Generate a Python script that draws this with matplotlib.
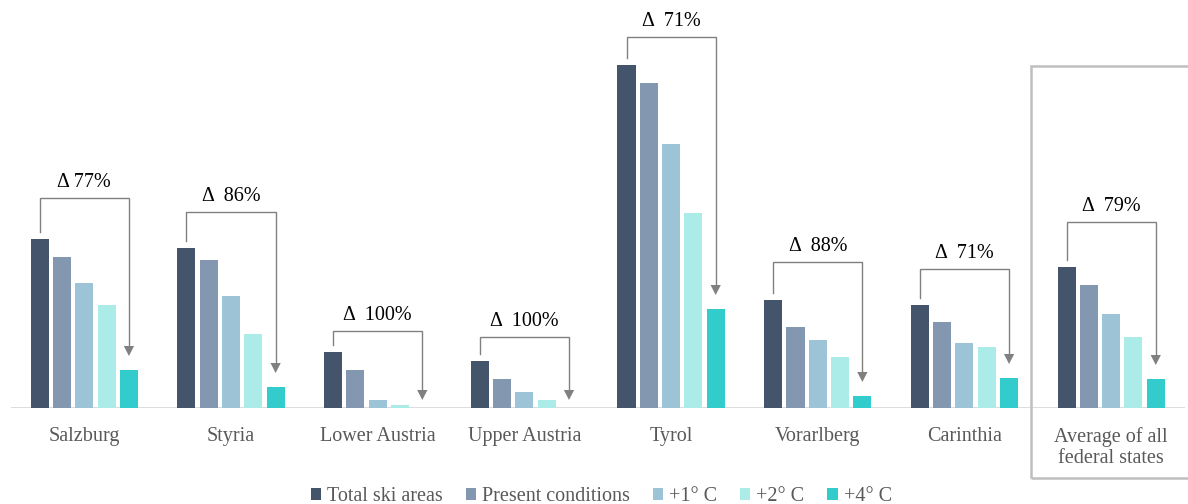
import matplotlib
matplotlib.use("Agg")
import matplotlib.pyplot as plt
from matplotlib.patches import Rectangle

plt.rcParams["font.family"] = ["Liberation Serif", "DejaVu Serif"]

regions = ["Salzburg", "Styria", "Lower Austria", "Upper Austria", "Tyrol",
           "Vorarlberg", "Carinthia", "Average of all\nfederal states"]
series = ["Total ski areas", "Present conditions", "+1° C", "+2° C", "+4° C"]
total = [169, 160, 56, 47, 343, 108, 103, 141]
present = [151, 148, 38, 29, 325, 81, 86, 123]
plus1 = [125, 112, 8, 16, 264, 68, 65, 94]
plus2 = [103, 74, 3, 8, 195, 51, 61, 71]
plus4 = [38, 21, 0, 0, 99, 12, 30, 29]
delta_labels = ["Δ 77%", "Δ  86%", "Δ  100%", "Δ  100%", "Δ  71%", "Δ  88%", "Δ  71%", "Δ  79%"]
bracket_h = [210, 196, 77, 71, 371, 146, 139, 186]

colors = ["#44546a", "#8497b0", "#9dc3d6", "#abebe8", "#33cccc"]
grey = "#808080"
text_col = "#595959"

fig = plt.figure(figsize=(11.88, 5.04), dpi=100)
ax = fig.add_axes([11 / 1188, 96 / 504, 1173.5 / 1188, 408 / 504])
ax.set_xlim(-0.5, 7.5)
ax.set_ylim(0, 408)

pitch = 0.152
width = 0.123
values = [total, present, plus1, plus2, plus4]
for j, (vals, name, c) in enumerate(zip(values, series, colors)):
    xs = [i + (j - 2) * pitch for i in range(len(regions))]
    ax.bar(xs, vals, width=width, color=c, label=name, zorder=2)

# reduction brackets from the total bar down to the +4° bar
for i in range(len(regions)):
    x0 = i - 2 * pitch
    x1 = i + 2 * pitch
    top = bracket_h[i]
    tip = plus4[i] + 14 if plus4[i] > 0 else 8
    ax.plot([x0, x0, x1, x1], [total[i] + 7, top, top, tip + 8],
            color=grey, lw=1.0, solid_joinstyle="miter", zorder=3)
    hw = 0.035
    ax.fill([x1 - hw, x1 + hw, x1], [tip + 10, tip + 10, tip], color=grey, lw=0, zorder=3)
    ax.text((x0 + x1) / 2, top + 11, delta_labels[i], ha="center", va="baseline",
            fontsize=14.5, color="black")

for s in ax.spines.values():
    s.set_visible(False)
ax.axhline(0, color="#d9d9d9", lw=2, zorder=1)
ax.set_yticks([])
ax.set_xticks(range(len(regions)))
ax.set_xticklabels(regions, fontsize=14.5, color=text_col, linespacing=1.2)
ax.tick_params(axis="x", length=0, pad=13.5)

# frame around the average group
fig.patches.append(Rectangle((1031 / 1188, 26 / 504), 0.2, 412 / 504,
                             transform=fig.transFigure, fill=False,
                             edgecolor="#bfbfbf", lw=1.8))

leg = fig.legend(loc="lower center", bbox_to_anchor=(0.506, -0.04), ncol=5,
                 frameon=False, fontsize=14.5, handlelength=0.5, handleheight=0.5,
                 handletextpad=0.3, columnspacing=1.15)
for t in leg.get_texts():
    t.set_color(text_col)

fig.savefig("out.png", dpi=100)
